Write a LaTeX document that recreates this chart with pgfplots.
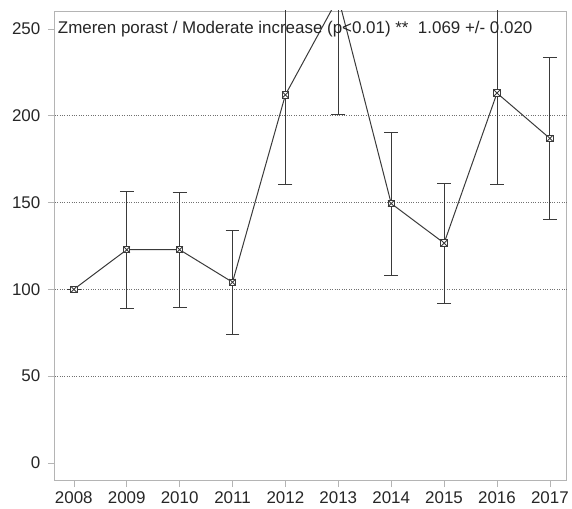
\documentclass[border=0pt]{standalone}
\usepackage{fontspec}
\setmainfont{Liberation Sans}
\usepackage{pgfplots}
\pgfplotsset{compat=1.18}
\definecolor{dataline}{HTML}{3A3A3A}
\definecolor{framecol}{HTML}{B4B4B4}
\definecolor{gridcol}{HTML}{707070}
\pgfdeclareplotmark{sqx}{%
  \pgfpathrectangle{\pgfpoint{-\pgfplotmarksize}{-\pgfplotmarksize}}{\pgfpoint{2\pgfplotmarksize}{2\pgfplotmarksize}}%
  \pgfusepathqfillstroke
  \pgfpathmoveto{\pgfpoint{-\pgfplotmarksize}{-\pgfplotmarksize}}%
  \pgfpathlineto{\pgfpoint{\pgfplotmarksize}{\pgfplotmarksize}}%
  \pgfpathmoveto{\pgfpoint{-\pgfplotmarksize}{\pgfplotmarksize}}%
  \pgfpathlineto{\pgfpoint{\pgfplotmarksize}{-\pgfplotmarksize}}%
  \pgfusepathqstroke}
\begin{document}
\begin{tikzpicture}
\begin{axis}[
  scale only axis,
  width=514pt, height=471pt,
  xmin=2007.64, xmax=2017.32,
  ymin=-9.9, ymax=260.3,
  xtick={2008,2009,...,2017},
  ytick={0,50,100,150,200,250},
  extra y ticks={50,100,150,200},
  extra y tick labels={},
  extra y tick style={grid=major, major tick length=0pt},
  grid style={gridcol, dotted, line width=0.6pt},
  tick align=outside,
  xtick pos=bottom, ytick pos=left,
  major tick length=7pt,
  tick style={framecol, line width=0.6pt},
  axis line style={framecol, line width=0.8pt},
  ticklabel style={font=\fontsize{17}{20}\selectfont, text=black!85},
  yticklabel style={xshift=-4pt},
  xticklabel style={yshift=-1pt},
  /pgf/number format/assume math mode=true,
  /pgf/number format/1000 sep={},
  clip=true,
]
\addplot[dataline, line width=1pt, mark=sqx, mark size=3.2pt,
  mark options={fill=white, line width=0.9pt},
  error bars/.cd, y dir=both, y explicit,
  error bar style={dataline, line width=1pt},
  error mark options={rotate=90, mark size=7pt, line width=1pt, dataline}]
coordinates {
  (2008,100) += (0,0) -= (0,0)
  (2009,122.8) += (0,33.8) -= (0,33.6)
  (2010,122.8) += (0,33.2) -= (0,33.3)
  (2011,104.1) += (0,29.6) -= (0,29.9)
  (2012,212) += (0,80) -= (0,51.5)
  (2013,268) += (0,80) -= (0,67.4)
  (2014,149.4) += (0,41.1) -= (0,41.5)
  (2015,126.6) += (0,34.6) -= (0,34.6)
  (2016,213) += (0,80) -= (0,52.5)
  (2017,186.9) += (0,46.5) -= (0,46.5)
};
\node[anchor=west, inner sep=0pt, text=black!85, font=\fontsize{17}{20}\selectfont]
  at (axis cs:2007.64,250) {\hspace{3pt}Zmeren porast / Moderate increase (p<0.01) **\ \ 1.069 +/- 0.020};
\end{axis}
\path[use as bounding box] (-55pt,-28pt) rectangle (517pt,482pt);
\end{tikzpicture}
\end{document}
